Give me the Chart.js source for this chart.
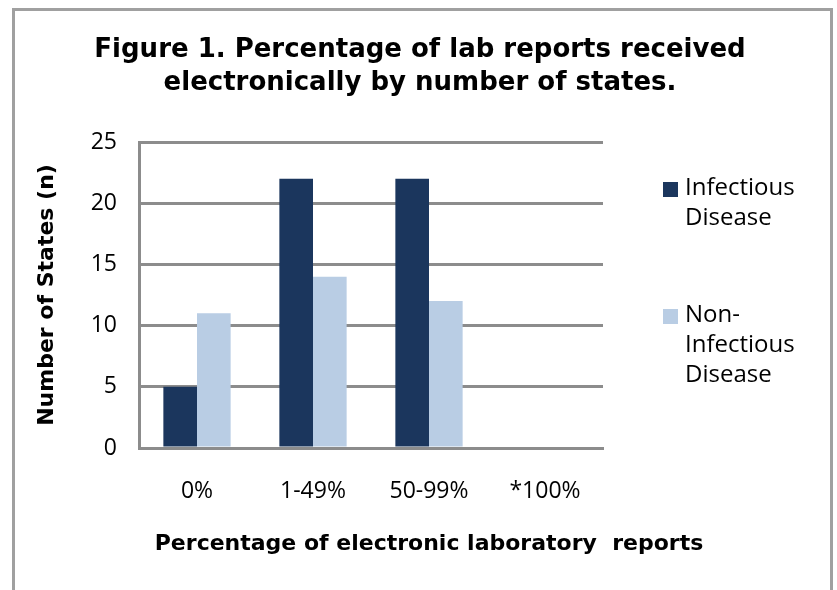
<!DOCTYPE html>
<html>
<head>
<meta charset="utf-8">
<script src="https://cdn.jsdelivr.net/npm/chart.js@4.4.0/dist/chart.umd.min.js"></script>
<style>
  html, body { margin: 0; padding: 0; background: #fff; }
  #wrap { width: 837px; height: 590px; }
</style>
</head>
<body>
<div id="wrap"><canvas id="chart1"></canvas></div>
<script>
// data
const categories = ['0%', '1-49%', '50-99%', '*100%'];
const infectious = [5, 22, 22, 0];
const nonInfectious = [11, 14, 12, 0];
const legendLines = [['Infectious', 'Disease'], ['Non-', 'Infectious', 'Disease']];
const titleLines = ['Figure 1. Percentage of lab reports received', 'electronically by number of states.'];
const xTitle = 'Percentage of electronic laboratory  reports';
const yTicks = [0, 5, 10, 15, 20, 25];

const FONT = '"Open Sans"';
const BOLD = '"DejaVu Sans"';
const GRID = '#8c8c8c';

// frame, title, x title (wider than the plot) and the multi-line legend
const figureText = {
    id: 'figureText',
    beforeDraw(chart) {
        const ctx = chart.ctx;
        ctx.save();
        ctx.fillStyle = '#fff';
        ctx.fillRect(0, 0, chart.width, chart.height);
        ctx.strokeStyle = '#a0a0a0';
        ctx.lineWidth = 3;
        ctx.strokeRect(13.5, 9.5, 818, 620);
        ctx.restore();
    },
    afterDraw(chart) {
        const ctx = chart.ctx;
        ctx.save();
        ctx.fillStyle = '#000';
        ctx.textAlign = 'center';
        ctx.textBaseline = 'alphabetic';
        ctx.font = 'bold 26px ' + BOLD;
        titleLines.forEach((t, i) => ctx.fillText(t, 420, 57 + i * 33));

        ctx.font = 'bold 22px ' + BOLD;
        ctx.fillText(xTitle, 429, 550);

        const baselines = [195, 322];
        ctx.font = '24px ' + FONT;
        ctx.textAlign = 'left';
        chart.data.datasets.forEach((ds, i) => {
            ctx.fillStyle = ds.backgroundColor;
            ctx.fillRect(663, baselines[i] - 13, 15, 15);
            ctx.fillStyle = '#000';
            legendLines[i].forEach((line, j) => ctx.fillText(line, 685, baselines[i] + j * 30));
        });
        ctx.restore();
    }
};

new Chart(document.getElementById('chart1').getContext('2d'), {
    type: 'bar',
    data: {
        labels: categories,
        datasets: [
            {label: legendLines[0].join(' '), data: infectious, backgroundColor: '#1b365d'},
            {label: legendLines[1].join(' '), data: nonInfectious, backgroundColor: '#b9cde4'}
        ]
    },
    options: {
        responsive: true,
        maintainAspectRatio: false,
        animation: false,
        layout: {padding: {left: 0, top: 142, right: 234, bottom: 0}},
        datasets: {bar: {categoryPercentage: 0.58, barPercentage: 1}},
        plugins: {
            legend: {display: false},
            title: {display: false},
            tooltip: {enabled: false}
        },
        scales: {
            x: {
                afterFit: s => { s.height = 142; },
                grid: {display: false, drawTicks: false},
                border: {color: GRID, width: 3},
                ticks: {color: '#000', padding: 30, font: {family: FONT, size: 23}}
            },
            y: {
                min: yTicks[0],
                max: yTicks[yTicks.length - 1],
                afterFit: s => { s.width = 139; },
                grid: {color: GRID, lineWidth: 3, drawTicks: false},
                border: {color: GRID, width: 3},
                ticks: {stepSize: yTicks[1] - yTicks[0], color: '#000', padding: 22, font: {family: FONT, size: 23}},
                title: {
                    display: true,
                    text: 'Number of States (n)',
                    color: '#000',
                    font: {family: BOLD, size: 22, weight: 'bold'},
                    padding: {top: 34, bottom: 0}
                }
            }
        }
    },
    plugins: [figureText]
});
</script>
</body>
</html>
